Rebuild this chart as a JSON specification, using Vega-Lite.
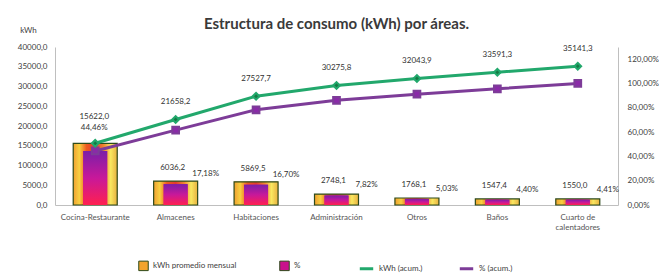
{
  "$schema": "https://vega.github.io/schema/vega-lite/v6.json",
  "width": 563,
  "height": 158,
  "autosize": "none",
  "padding": {"left": 55, "top": 47, "right": 41, "bottom": 68},
  "background": "white",
  "title": {"text": "Estructura de consumo (kWh) por áreas.", "fontSize": 15, "font": "Lato", "fontWeight": "bold", "color": "#3a3a3a", "offset": -6, "anchor": "middle"},
  "config": {
    "view": {"stroke": null},
    "locale": {"number": {"decimal": ",", "thousands": ".", "grouping": [3], "currency": ["", " €"]}},
    "axis": {"labelFont": "Lato", "labelFontSize": 8, "labelColor": "#404040", "domainColor": "#bfbfbf", "ticks": false, "grid": false, "titleFont": "Lato"},
    "legend": {"labelFont": "Lato", "labelFontSize": 8, "labelColor": "#404040"}
  },
  "data": {"values": [
    {"area": "Cocina-Restaurante", "kwh": 15622.0, "pct": 0.4446, "kwh_acum": 15622.0, "pct_acum": 0.4446},
    {"area": "Almacenes", "kwh": 6036.2, "pct": 0.1718, "kwh_acum": 21658.2, "pct_acum": 0.6163},
    {"area": "Habitaciones", "kwh": 5869.5, "pct": 0.1670, "kwh_acum": 27527.7, "pct_acum": 0.7834},
    {"area": "Administración", "kwh": 2748.1, "pct": 0.0782, "kwh_acum": 30275.8, "pct_acum": 0.8616},
    {"area": "Otros", "kwh": 1768.1, "pct": 0.0503, "kwh_acum": 32043.9, "pct_acum": 0.9119},
    {"area": "Baños", "kwh": 1547.4, "pct": 0.0440, "kwh_acum": 33591.3, "pct_acum": 0.9559},
    {"area": "Cuarto de calentadores", "kwh": 1550.0, "pct": 0.0441, "kwh_acum": 35141.3, "pct_acum": 1.0}
  ]},
  "encoding": {
    "x": {"field": "area", "type": "nominal", "sort": null, "scale": {"paddingInner": 0, "paddingOuter": 0},
      "axis": {"title": null, "labelAngle": 0, "labelPadding": 8, "labelColor": "#555555", "labelExpr": "datum.label == 'Cuarto de calentadores' ? ['Cuarto de', 'calentadores'] : datum.label"}}
  },
  "layer": [
    {
      "mark": {"type": "bar", "width": 44},
      "encoding": {
        "y": {"field": "kwh", "type": "quantitative", "scale": {"domain": [0, 40000]},
          "axis": {"values": [0, 5000, 10000, 15000, 20000, 25000, 30000, 35000, 40000], "format": ".1f", "labelPadding": 8,
            "title": "kWh", "titleAngle": 0, "titleX": -27, "titleY": -17, "titleFontSize": 8, "titleFontWeight": "normal", "titleAlign": "center", "titleBaseline": "middle", "titleColor": "#404040"}},
        "fill": {"datum": "kWh promedio mensual", "type": "nominal",
          "scale": {"domain": ["kWh promedio mensual", "%"], "range": ["#f2a42c", "#c8128c"]},
          "legend": {"title": null, "orient": "none", "legendX": 83, "legendY": 213, "direction": "horizontal", "symbolType": "square", "symbolSize": 90, "columnPadding": 40, "symbolStrokeColor": "#2d4a1a", "symbolStrokeWidth": 1}}
      }
    },
    {
      "mark": {"type": "bar", "width": 44, "stroke": "#2d4a1a", "strokeWidth": 1.2,
        "color": {"gradient": "linear", "x1": 0, "y1": 0, "x2": 1, "y2": 0, "stops": [
          {"offset": 0, "color": "#f0a030"}, {"offset": 0.14, "color": "#f7d040"}, {"offset": 0.3, "color": "#ee5a20"},
          {"offset": 0.5, "color": "#e23a30"}, {"offset": 0.7, "color": "#f08a30"}, {"offset": 0.85, "color": "#f9e860"}, {"offset": 1, "color": "#e8b040"}]}},
      "encoding": {"y": {"field": "kwh", "type": "quantitative", "scale": {"domain": [0, 40000]}, "axis": null}}
    },
    {
      "mark": {"type": "bar", "width": 24},
      "encoding": {
        "y": {"field": "pct", "type": "quantitative", "scale": {"domain": [0, 1.3]},
          "axis": {"orient": "right", "values": [0, 0.2, 0.4, 0.6, 0.8, 1.0, 1.2], "format": ".2%", "labelPadding": 9, "title": null}},
        "fill": {"datum": "%", "type": "nominal"}
      }
    },
    {
      "mark": {"type": "bar", "width": 24,
        "color": {"gradient": "linear", "x1": 0, "y1": 0, "x2": 0, "y2": 1, "stops": [
          {"offset": 0, "color": "#7a1fa8"}, {"offset": 0.5, "color": "#c8189a"}, {"offset": 1, "color": "#ff2050"}]}},
      "encoding": {"y": {"field": "pct", "type": "quantitative", "scale": {"domain": [0, 1.3]}, "axis": null}}
    },
    {
      "mark": {"type": "line", "strokeWidth": 3, "point": {"shape": "square", "size": 45, "filled": true, "fill": "#8a2aa8"}},
      "encoding": {
        "y": {"field": "pct_acum", "type": "quantitative", "scale": {"domain": [0, 1.3]}, "axis": null},
        "stroke": {"datum": "% (acum.)", "type": "nominal",
          "scale": {"domain": ["kWh (acum.)", "% (acum.)"], "range": ["#22a86c", "#7d3c98"]},
          "legend": {"title": null, "orient": "none", "legendX": 303, "legendY": 213, "direction": "horizontal", "symbolType": "stroke", "symbolStrokeWidth": 3, "symbolSize": 180, "columnPadding": 30}}
      }
    },
    {
      "mark": {"type": "line", "strokeWidth": 3, "point": {"shape": "diamond", "size": 45, "filled": true, "fill": "#157a44"}},
      "encoding": {
        "y": {"field": "kwh_acum", "type": "quantitative", "scale": {"domain": [0, 40000]}, "axis": null},
        "stroke": {"datum": "kWh (acum.)", "type": "nominal"}
      }
    },
    {
      "transform": [{"filter": "datum.area != 'Cocina-Restaurante'"}],
      "mark": {"type": "text", "font": "Lato", "fontSize": 8, "color": "#333333", "dy": -13, "dx": -3},
      "encoding": {"y": {"field": "kwh", "type": "quantitative", "scale": {"domain": [0, 40000]}, "axis": null},
        "text": {"field": "kwh", "type": "quantitative", "format": ".1f"}}
    },
    {
      "transform": [{"filter": "datum.area != 'Cocina-Restaurante'"}],
      "mark": {"type": "text", "font": "Lato", "fontSize": 8, "color": "#333333", "dy": -10, "dx": 30},
      "encoding": {"y": {"field": "pct", "type": "quantitative", "scale": {"domain": [0, 1.3]}, "axis": null},
        "text": {"field": "pct", "type": "quantitative", "format": ".2%"}}
    },
    {
      "transform": [{"filter": "datum.area == 'Cocina-Restaurante'"}],
      "mark": {"type": "text", "font": "Lato", "fontSize": 8, "color": "#333333", "dy": -26, "dx": -1},
      "encoding": {"y": {"field": "kwh", "type": "quantitative", "scale": {"domain": [0, 40000]}, "axis": null},
        "text": {"field": "kwh", "type": "quantitative", "format": ".1f"}}
    },
    {
      "transform": [{"filter": "datum.area == 'Cocina-Restaurante'"}],
      "mark": {"type": "text", "font": "Lato", "fontSize": 8, "color": "#333333", "dy": -23, "dx": -1},
      "encoding": {"y": {"field": "pct", "type": "quantitative", "scale": {"domain": [0, 1.3]}, "axis": null},
        "text": {"field": "pct", "type": "quantitative", "format": ".2%"}}
    },
    {
      "transform": [{"filter": "datum.area != 'Cocina-Restaurante'"}],
      "mark": {"type": "text", "font": "Lato", "fontSize": 8, "color": "#333333", "dy": -17},
      "encoding": {"y": {"field": "kwh_acum", "type": "quantitative", "scale": {"domain": [0, 40000]}, "axis": null},
        "text": {"field": "kwh_acum", "type": "quantitative", "format": ".1f"}}
    }
  ],
  "resolve": {"scale": {"y": "independent"}}
}
